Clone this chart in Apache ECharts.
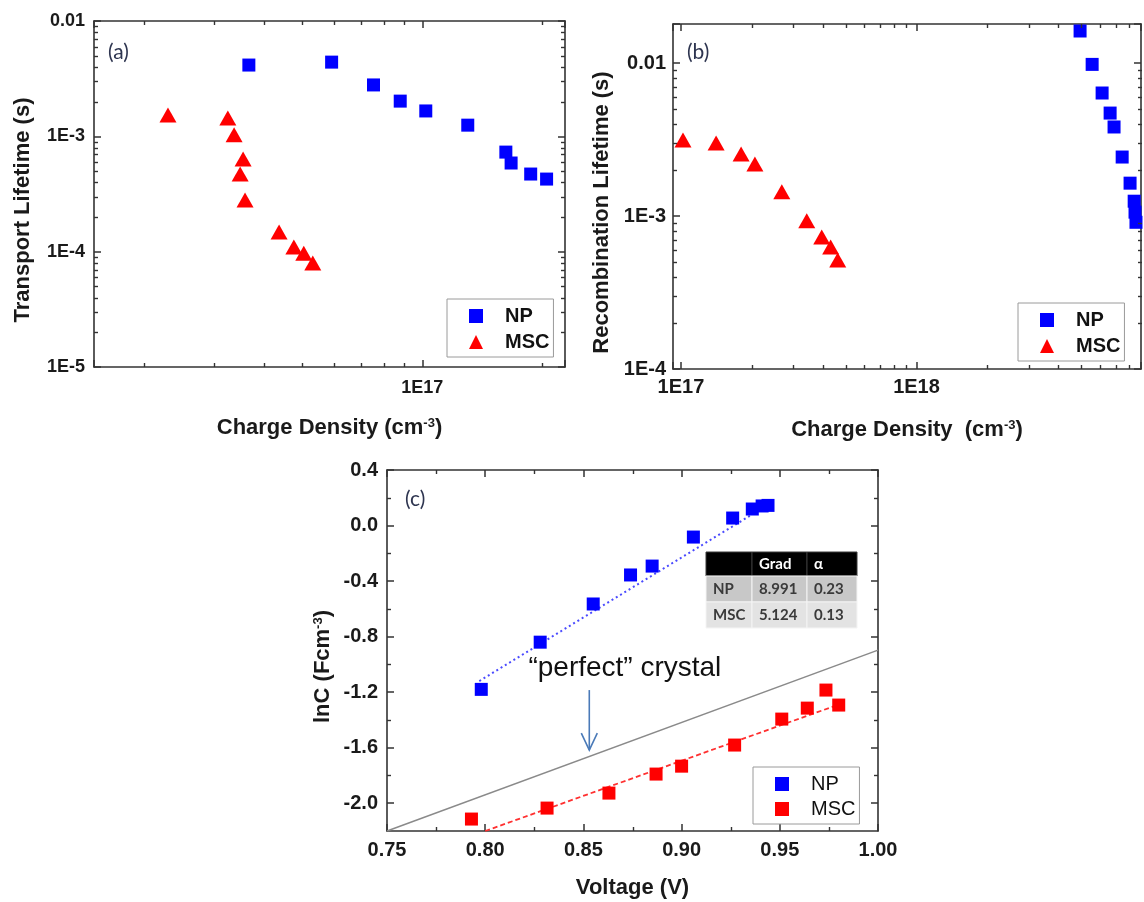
<!DOCTYPE html>
<html>
<head>
<meta charset="utf-8">
<title>Lifetime and capacitance vs charge density / voltage</title>
<script src="https://cdn.jsdelivr.net/npm/echarts@6/dist/echarts.min.js"></script>
<style>
  html, body { margin: 0; padding: 0; background: #fff; }
  #main { width: 1144px; height: 902px; }
</style>
</head>
<body>
<div id="main"></div>
<script>
// (a) transport lifetime vs charge density
var npDensityA = [3.67e16, 5.92e16, 7.54e16, 8.8e16, 1.02e17, 1.30e17, 1.62e17, 1.67e17, 1.87e17, 2.05e17];
var npTransport = [4.15e-3, 4.4e-3, 2.79e-3, 2.02e-3, 1.66e-3, 1.25e-3, 7.3e-4, 5.87e-4, 4.71e-4, 4.26e-4];
var mscDensityA = [2.30e16, 3.25e16, 3.37e16, 3.55e16, 3.49e16, 3.59e16, 4.37e16, 4.76e16, 5.04e16, 5.31e16];
var mscTransport = [1.53e-3, 1.44e-3, 1.03e-3, 6.35e-4, 4.71e-4, 2.8e-4, 1.48e-4, 1.10e-4, 9.7e-5, 7.96e-5];

// (b) recombination lifetime vs charge density
var mscDensityB = [1.02e17, 1.41e17, 1.80e17, 2.06e17, 2.68e17, 3.42e17, 3.96e17, 4.32e17, 4.63e17];
var mscRecomb = [3.14e-3, 3.0e-3, 2.54e-3, 2.19e-3, 1.44e-3, 9.3e-4, 7.3e-4, 6.27e-4, 5.15e-4];
var npDensityB = [4.95e18, 5.57e18, 6.14e18, 6.64e18, 6.9e18, 7.47e18, 8.07e18, 8.4e18, 8.47e18, 8.55e18];
var npRecomb = [0.0162, 0.0098, 6.37e-3, 4.71e-3, 3.82e-3, 2.43e-3, 1.64e-3, 1.25e-3, 1.06e-3, 9.1e-4];

// (c) lnC vs voltage
var npVoltage = [0.798, 0.828, 0.855, 0.874, 0.885, 0.906, 0.926, 0.936, 0.941, 0.944];
var npLnC = [-1.18, -0.84, -0.565, -0.356, -0.292, -0.083, 0.054, 0.119, 0.141, 0.145];
var mscVoltage = [0.793, 0.8315, 0.863, 0.887, 0.900, 0.927, 0.951, 0.964, 0.9735, 0.980];
var mscLnC = [-2.114, -2.035, -1.927, -1.79, -1.733, -1.581, -1.394, -1.315, -1.185, -1.293];
var npFit = [[0.797, -1.12], [0.944, 0.15]];
var mscFit = [[0.800, -2.20], [0.982, -1.279]];
var perfectLine = [[0.75, -2.20], [1.00, -0.897]];
var arrowFrom = [0.853, -1.185];
var arrowTo = [0.853, -1.617];
var perfectLabelAt = [0.822, -1.026];

// axis ticks for (c)
var voltTicks = [0.75, 0.80, 0.85, 0.90, 0.95, 1.00];
var voltMinor = [0.775, 0.825, 0.875, 0.925, 0.975];
var lnTicks = [-2.0, -1.6, -1.2, -0.8, -0.4, 0.0, 0.4];
var lnMinor = [-1.8, -1.4, -1.0, -0.6, -0.2, 0.2];

// inset table
var tableHead = ['', 'Grad', 'α'];
var tableRows = [['NP', '8.991', '0.23'], ['MSC', '5.124', '0.13']];

var font = '"Liberation Sans", Arial, sans-serif';
var axisColor = '#333333';
var grids = [
  {left: 94, top: 21, width: 471, height: 346},
  {left: 673, top: 24, width: 469, height: 345},
  {left: 387, top: 470, width: 491, height: 361}
];

function pairs(xs, ys) {
  return xs.map(function (x, i) { return [x, ys[i]]; });
}

function logLabel(v) {
  var l = Math.log10(v);
  var e = Math.round(l);
  if (Math.abs(l - e) > 1e-6) return '';
  return e === -2 ? '0.01' : '1E' + e;
}

function frame(gi, type, min, max, position) {
  return {
    type: type, gridIndex: gi, min: min, max: max, position: position,
    axisLine: {onZero: false, lineStyle: {color: axisColor, width: 1.6}},
    axisTick: {show: true, inside: true, length: 7, lineStyle: {color: axisColor, width: 1.5}},
    axisLabel: {show: false},
    splitLine: {show: false}
  };
}

function titleStyle(size) {
  return {
    rich: {
      t: {fontSize: size, fontWeight: 'bold', fontFamily: font, color: '#1a1a1a'},
      s: {fontSize: 13, fontWeight: 'bold', fontFamily: font, color: '#1a1a1a', verticalAlign: 'top'}
    }
  };
}

function withLabels(ax, size, margin, fmt, name, gap, vertical) {
  ax.axisLabel = {show: true, fontSize: size, fontWeight: 'bold', fontFamily: font,
                  color: '#1a1a1a', margin: margin, formatter: fmt};
  ax.name = name;
  ax.nameLocation = 'middle';
  ax.nameGap = gap;
  ax.nameTextStyle = titleStyle(22);
  if (vertical) ax.nameTextStyle.padding = [0, 32, 0, 0];
  return ax;
}

function fixedTicks(ax, ticks) {
  ax.axisTick.customValues = ticks;
  if (ax.axisLabel.show) ax.axisLabel.customValues = ticks;
  return ax;
}

var xAxes = [
  withLabels(frame(0, 'log', 1.5e16, 2.28e17, 'bottom'), 18, 12, logLabel,
             '{t|Charge Density (cm}{s|-3}{t|)}', 50),
  frame(0, 'log', 1.5e16, 2.28e17, 'top'),
  withLabels(frame(1, 'log', 9.25e16, 8.98e18, 'bottom'), 20, 8, logLabel,
             '{t|Charge Density  (cm}{s|-3}{t|)}', 50),
  frame(1, 'log', 9.25e16, 8.98e18, 'top'),
  fixedTicks(withLabels(frame(2, 'value', 0.75, 1.00, 'bottom'), 20, 9,
             function (v) { return v.toFixed(2); }, '{t|Voltage (V)}', 46), voltTicks),
  fixedTicks(frame(2, 'value', 0.75, 1.00, 'top'), voltTicks)
];

var yAxes = [
  withLabels(frame(0, 'log', 1e-5, 0.01, 'left'), 18, 9, logLabel,
             '{t|Transport Lifetime (s)}', 60, true),
  frame(0, 'log', 1e-5, 0.01, 'right'),
  withLabels(frame(1, 'log', 1e-4, 0.018, 'left'), 20, 7, logLabel,
             '{t|Recombination Lifetime (s)}', 60, true),
  frame(1, 'log', 1e-4, 0.018, 'right'),
  fixedTicks(withLabels(frame(2, 'value', -2.2, 0.4, 'left'), 20, 9,
             function (v) { return v.toFixed(1); }, '{t|lnC (Fcm}{s|-3}{t|)}', 53, true), lnTicks),
  fixedTicks(frame(2, 'value', -2.2, 0.4, 'right'), lnTicks)
];

function legendBox(left, top, mscIcon, weight, gap) {
  return {
    left: left, top: top, orient: 'vertical',
    padding: [7, 4, 5, 22], itemGap: gap, itemWidth: 14, itemHeight: 14,
    borderColor: '#9a9a9a', borderWidth: 1, backgroundColor: '#fff',
    selectedMode: false,
    data: [{name: 'NP', icon: 'rect'}, {name: 'MSC', icon: mscIcon}],
    textStyle: {fontSize: 20, fontWeight: weight, fontFamily: font, color: '#111',
                lineHeight: 20, padding: [0, 0, 0, 17]}
  };
}

var blue = {color: '#0000ff', opacity: 1};
var red = {color: '#ff0000', opacity: 1};

var option = {
  backgroundColor: '#fff',
  animation: false,
  textStyle: {fontFamily: font},
  grid: grids,
  xAxis: xAxes,
  yAxis: yAxes,
  legend: [
    legendBox(447, 299, 'triangle', 'bold', 6),
    legendBox(1018, 303, 'triangle', 'bold', 6),
    legendBox(753, 767, 'rect', 'normal', 5)
  ],
  series: [
    {name: 'NP', type: 'scatter', xAxisIndex: 0, yAxisIndex: 0, symbol: 'rect', symbolSize: 13,
     itemStyle: blue, data: pairs(npDensityA, npTransport)},
    {name: 'MSC', type: 'scatter', xAxisIndex: 0, yAxisIndex: 0, symbol: 'triangle', symbolSize: [17, 15],
     itemStyle: red, data: pairs(mscDensityA, mscTransport)},
    {name: 'NP', type: 'scatter', xAxisIndex: 2, yAxisIndex: 2, symbol: 'rect', symbolSize: 13,
     itemStyle: blue, data: pairs(npDensityB, npRecomb)},
    {name: 'MSC', type: 'scatter', xAxisIndex: 2, yAxisIndex: 2, symbol: 'triangle', symbolSize: [17, 15],
     itemStyle: red, data: pairs(mscDensityB, mscRecomb)},
    {name: 'perfect crystal', type: 'line', xAxisIndex: 4, yAxisIndex: 4, symbol: 'none', silent: true, z: 1,
     lineStyle: {color: '#8a8a8a', width: 1.5}, data: perfectLine},
    {name: 'NP fit', type: 'line', xAxisIndex: 4, yAxisIndex: 4, symbol: 'none', silent: true, z: 1,
     lineStyle: {color: '#4a4aff', width: 2, type: [2, 3]}, data: npFit},
    {name: 'MSC fit', type: 'line', xAxisIndex: 4, yAxisIndex: 4, symbol: 'none', silent: true, z: 1,
     lineStyle: {color: '#ff3030', width: 1.8, type: [5, 3]}, data: mscFit},
    {name: 'NP', type: 'scatter', xAxisIndex: 4, yAxisIndex: 4, symbol: 'rect', symbolSize: 13, z: 3,
     itemStyle: blue, data: pairs(npVoltage, npLnC)},
    {name: 'MSC', type: 'scatter', xAxisIndex: 4, yAxisIndex: 4, symbol: 'rect', symbolSize: 13, z: 3,
     itemStyle: red, data: pairs(mscVoltage, mscLnC)}
  ]
};

var chart = echarts.init(document.getElementById('main'));
chart.setOption(option);

// ---- annotations drawn after layout ----
function seg(x1, y1, x2, y2, color, w) {
  return {type: 'line', silent: true, z: 50,
          shape: {x1: x1, y1: y1, x2: x2, y2: y2},
          style: {stroke: color || axisColor, lineWidth: w || 1.4}};
}

function decadeMinors(min, max) {
  var out = [];
  for (var e = Math.floor(Math.log10(min)); e <= Math.ceil(Math.log10(max)); e++) {
    for (var m = 2; m <= 9; m++) {
      var v = m * Math.pow(10, e);
      if (v > min && v < max) out.push(v);
    }
  }
  return out;
}

function minorTicks(gi, xi, yi, xs, ys) {
  var g = grids[gi], len = 4, els = [];
  var top = g.top, bottom = g.top + g.height, left = g.left, right = g.left + g.width;
  xs.forEach(function (v) {
    var px = Math.round(chart.convertToPixel({xAxisIndex: xi}, v)) + 0.5;
    els.push(seg(px, bottom, px, bottom - len), seg(px, top, px, top + len));
  });
  ys.forEach(function (v) {
    var py = Math.round(chart.convertToPixel({yAxisIndex: yi}, v)) + 0.5;
    els.push(seg(left, py, left + len, py), seg(right, py, right - len, py));
  });
  return els;
}

function label(text, x, y, fontCss, color, align) {
  return {type: 'text', silent: true, z: 60,
          style: {text: text, x: x, y: y, font: fontCss, fill: color,
                  textAlign: align || 'left', textVerticalAlign: 'middle'}};
}

var els = [];
els = els.concat(minorTicks(0, 0, 0, decadeMinors(1.5e16, 2.28e17), decadeMinors(1e-5, 0.01)));
els = els.concat(minorTicks(1, 2, 2, decadeMinors(9.25e16, 8.98e18), decadeMinors(1e-4, 0.018)));
els = els.concat(minorTicks(2, 4, 4, voltMinor, lnMinor));

// panel letters
els.push(label('(a)', 108, 52, '21px Lato', '#2e3550'));
els.push(label('(b)', 687, 52, '21px Lato', '#2e3550'));
els.push(label('(c)', 405, 499, '21px Lato', '#2e3550'));

// "perfect" crystal note and arrow
var pl = chart.convertToPixel({gridIndex: 2}, perfectLabelAt);
els.push(label('\u201cperfect\u201d crystal', pl[0], pl[1], '28px "Liberation Sans", Arial', '#111'));
var a0 = chart.convertToPixel({gridIndex: 2}, arrowFrom);
var a1 = chart.convertToPixel({gridIndex: 2}, arrowTo);
els.push(seg(a0[0], a0[1], a1[0], a1[1], '#4a7ab8', 1.6));
els.push({type: 'polyline', silent: true, z: 50,
          shape: {points: [[a1[0] - 8, a1[1] - 17], [a1[0], a1[1]], [a1[0] + 8, a1[1] - 17]]},
          style: {stroke: '#4a7ab8', lineWidth: 1.6, fill: null}});

// inset table
var colW = [46, 55, 50], rowH = [24, 26, 26], tx = 706, ty = 552;
var rowFill = ['#000000', '#c8c8c8', '#e3e3e3'];
[tableHead].concat(tableRows).forEach(function (row, r) {
  var y = ty;
  for (var k = 0; k < r; k++) y += rowH[k];
  var x = tx;
  row.forEach(function (cell, c) {
    els.push({type: 'rect', silent: true, z: 40,
              shape: {x: x, y: y, width: colW[c], height: rowH[r]},
              style: {fill: rowFill[r], stroke: r === 0 ? '#3a3a3a' : '#f4f4f4', lineWidth: 1}});
    if (cell) {
      els.push(label(cell, x + 7, y + rowH[r] / 2, 'bold 15px Lato', r === 0 ? '#ffffff' : '#3a3a3a'));
    }
    x += colW[c];
  });
});

chart.setOption({graphic: {elements: els}});
</script>
</body>
</html>
